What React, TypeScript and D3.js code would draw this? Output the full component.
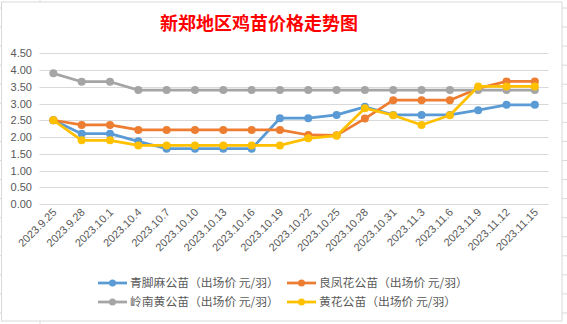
import React from "react";
import * as d3 from "d3";

const dates = ["2023.9.25","2023.9.28","2023.10.1","2023.10.4","2023.10.7","2023.10.10","2023.10.13","2023.10.16","2023.10.19","2023.10.22","2023.10.25","2023.10.28","2023.10.31","2023.11.3","2023.11.6","2023.11.9","2023.11.12","2023.11.15"];
const qingjiao = [2.5,2.1,2.1,1.87,1.65,1.65,1.65,1.65,2.56,2.56,2.66,2.9,2.66,2.66,2.66,2.8,2.96,2.96];
const liangfeng = [2.5,2.36,2.36,2.21,2.21,2.21,2.21,2.21,2.21,2.06,2.05,2.55,3.1,3.1,3.1,3.45,3.66,3.66];
const lingnan = [3.9,3.65,3.65,3.4,3.4,3.4,3.4,3.4,3.4,3.4,3.4,3.4,3.4,3.4,3.4,3.4,3.4,3.4];
const huanghua = [2.5,1.9,1.9,1.75,1.75,1.75,1.75,1.75,1.75,1.96,2.04,2.86,2.65,2.36,2.65,3.51,3.51,3.51];
const seriesNames = ["青脚麻公苗（出场价 元/羽）","良凤花公苗（出场价 元/羽）","岭南黄公苗（出场价 元/羽）","黄花公苗（出场价 元/羽）"];
const yTicks = [0,0.5,1,1.5,2,2.5,3,3.5,4,4.5];
const title = "新郑地区鸡苗价格走势图";

const colors = ["#5B9BD5","#ED7D31","#A5A5A5","#FFC000"];
const series = [qingjiao, liangfeng, lingnan, huanghua];

export default function App() {
  const W = 567, H = 324;
  const x = d3.scalePoint<string>().domain(dates).range([39.2, 549]).padding(0.5);
  const y = d3.scaleLinear().domain([0, 4.5]).range([204, 53.25]);
  const line = d3.line<number>().x((_, i) => x(dates[i]) as number).y(d => y(d));
  const stubs = d3.range(17).map(k => 8 + 19.06 * k);
  const legendPos = [[98, 283], [287, 283], [98, 302], [287, 302]];
  const txt = "#595959";
  const font = "'Noto Sans CJK SC', 'Liberation Sans', sans-serif";
  return (
    <svg width={W} height={H} style={{ position: "absolute", left: 0, top: 0, background: "#fff" }}>
      {stubs.map((s, i) => <line key={"r" + i} x1={562} x2={567} y1={s} y2={s} stroke="#d9d9d9" />)}
      {stubs.map((s, i) => <line key={"l" + i} x1={0} x2={1.5} y1={s} y2={s} stroke="#d9d9d9" />)}
      <line x1={40} x2={40} y1={0} y2={2} stroke="#d9d9d9" />
      <line x1={40} x2={40} y1={321} y2={324} stroke="#d9d9d9" />
      <rect x={1.5} y={2} width={560.5} height={319} fill="#fff" stroke="#d9d9d9" strokeWidth={1} />
      <text x={259} y={30} textAnchor="middle" fill="#FF0000" fontSize={18} fontWeight="bold" fontFamily={font}>{title}</text>
      {yTicks.map(t => (
        <g key={t}>
          <line x1={39.5} x2={548.5} y1={Math.round(y(t)) + 0.5} y2={Math.round(y(t)) + 0.5} stroke="#d9d9d9" strokeWidth={1} />
          <text x={32} y={y(t) + 4} textAnchor="end" fontSize={11} fill={txt} fontFamily="'Liberation Sans', sans-serif">{t.toFixed(2)}</text>
        </g>
      ))}
      {dates.map(d => (
        <text key={d} transform={`translate(${(x(d) as number) + 4},${213}) rotate(-45)`} textAnchor="end" fontSize={11} fill={txt} fontFamily="'Liberation Sans', sans-serif">{d}</text>
      ))}
      {series.map((s, si) => (
        <g key={si}>
          <path d={line(s) as string} fill="none" stroke={colors[si]} strokeWidth={2.75} strokeLinejoin="round" strokeLinecap="round" />
          {s.map((v, i) => <circle key={i} cx={x(dates[i]) as number} cy={y(v)} r={4} fill={colors[si]} />)}
        </g>
      ))}
      {seriesNames.map((n, i) => {
        const [lx, ly] = legendPos[i];
        return (
          <g key={n}>
            <line x1={lx} x2={lx + 29} y1={ly} y2={ly} stroke={colors[i]} strokeWidth={2.75} />
            <circle cx={lx + 14.5} cy={ly} r={3.5} fill={colors[i]} />
            <text x={lx + 32} y={ly + 4} fontSize={11.8} fill={txt} fontFamily={font}>{n}</text>
          </g>
        );
      })}
    </svg>
  );
}
